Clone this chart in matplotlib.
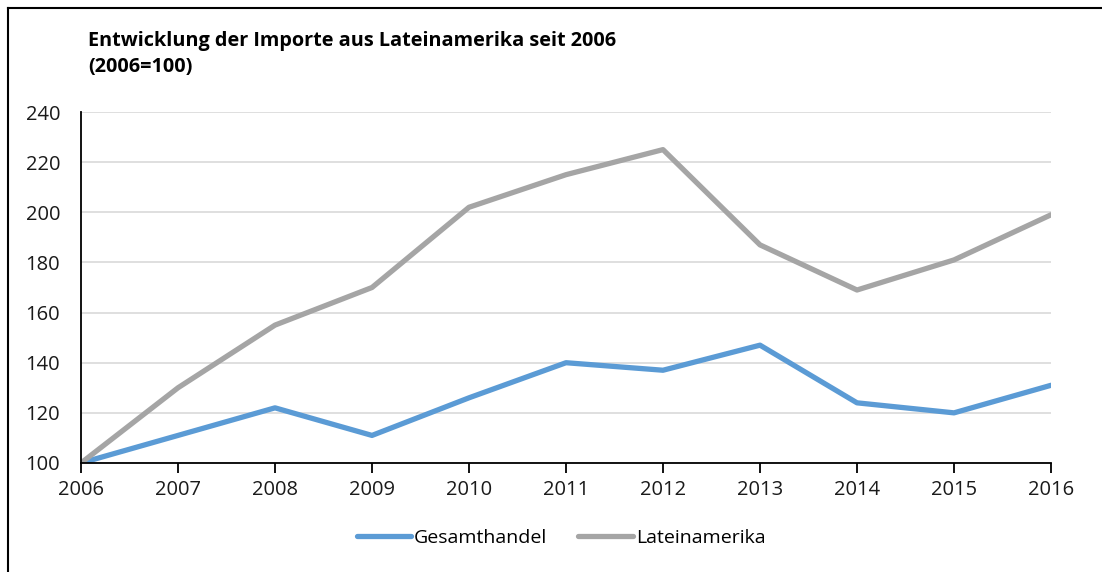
import matplotlib
matplotlib.use("Agg")
import matplotlib.pyplot as plt
from matplotlib.lines import Line2D

years = [2006, 2007, 2008, 2009, 2010, 2011, 2012, 2013, 2014, 2015, 2016]
gesamthandel = [100, 111, 122, 111, 126, 140, 137, 147, 124, 120, 131]
lateinamerika = [100, 130, 155, 170, 202, 215, 225, 187, 169, 181, 199]
yticks = [100, 120, 140, 160, 180, 200, 220, 240]
title = "Entwicklung der Importe aus Lateinamerika seit 2006\n(2006=100)"

plt.rcParams['font.family'] = ['Open Sans', 'DejaVu Sans']

fig = plt.figure(figsize=(11.02, 5.72), dpi=100)
ax = fig.add_axes([81/1102, 1-463/572, (1051-81)/1102, (463-112)/572])

ax.plot(years, gesamthandel, color='#5B9BD5', lw=3.8, label='Gesamthandel', solid_capstyle='round', solid_joinstyle='round')
ax.plot(years, lateinamerika, color='#A5A5A5', lw=3.8, label='Lateinamerika', solid_capstyle='round', solid_joinstyle='round')

ax.set_xlim(2006, 2016)
ax.set_ylim(100, 240)
ax.set_xticks(years)
ax.set_yticks(yticks)
ax.grid(axis='y', color='#D9D9D9', lw=1.2)
ax.set_axisbelow(True)
for s in ['top', 'right']:
    ax.spines[s].set_visible(False)
ax.spines['left'].set_linewidth(1.3)
ax.spines['bottom'].set_linewidth(1.3)
ax.tick_params(axis='x', length=7, width=1.3, pad=5, labelsize=14.5)
ax.tick_params(axis='y', length=0, pad=15, labelsize=14.5)
for lab in ax.get_xticklabels() + ax.get_yticklabels():
    lab.set_color('#1a1a1a')

fig.text(88/1102, 1-31/572, title, fontsize=14.3, fontweight='bold', va='top', ha='left', linespacing=1.4)

leg = fig.legend(loc='center', bbox_to_anchor=(561/1102, 1-538/572), ncol=2, frameon=False,
                 fontsize=14, handlelength=2.8, handletextpad=0.15, columnspacing=1.6)

fig.add_artist(Line2D([8/1102, 1.0], [1-8/572, 1-8/572], color='black', lw=1.5, transform=fig.transFigure))
fig.add_artist(Line2D([8/1102, 8/1102], [0, 1-8/572], color='black', lw=1.5, transform=fig.transFigure))

fig.savefig('out.png', dpi=100)
